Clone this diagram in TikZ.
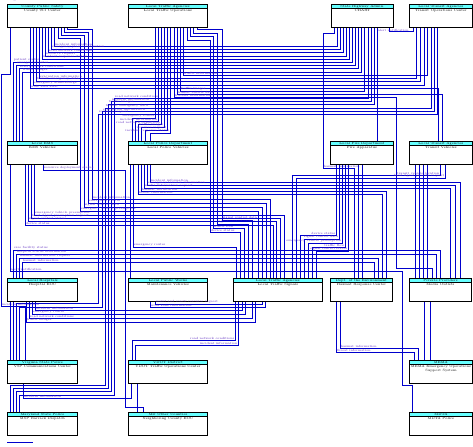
\documentclass[tikz,border=0pt]{standalone}
\usepackage{xcolor}
\usepackage{tikz}

\definecolor{flowblue}{RGB}{0,0,204}
\definecolor{hdrcyan}{RGB}{102,255,255}
\definecolor{lblpurple}{RGB}{90,40,190}

\newcommand{\elemtext}[3]{\parbox[t][0.69cm][t]{#1}{\centering\fontsize{2.8}{3.6}\selectfont\rule{0pt}{2.6pt}#2\\#3}}

\tikzset{
  elem/.style={draw, line width=0.8pt, fill=white, anchor=north west, inner sep=0pt,
    path picture={\fill[hdrcyan] (path picture bounding box.north west) rectangle ([yshift=-3.4pt]path picture bounding box.north east);
      \draw[line width=0.5pt] ([yshift=-3.4pt]path picture bounding box.north west) -- ([yshift=-3.4pt]path picture bounding box.north east);}},
  flow/.style={draw=flowblue, line width=0.75pt},
  lbl/.style={pos=0.5, anchor=south west, inner sep=0.3pt, text=lblpurple, font=\fontsize{2.6}{3}\selectfont},
  lbll/.style={lbl, anchor=south east}
}

\begin{document}
\begin{tikzpicture}[x=0.03cm,y=-0.03cm]
  \useasboundingbox (0,0) rectangle (473,447);
  % Elements
  \node[elem] (A) at (7,4)   {\elemtext{2.1cm}{County Public Safety}{County 911 Center}};
  \node[elem] (B) at (128,4) {\elemtext{2.37cm}{Local Traffic Agencies}{Local Traffic Operations}};
  \node[elem] (C) at (331,4) {\elemtext{1.86cm}{State Highway Admin.}{CHART}};
  \node[elem] (D) at (409,4) {\elemtext{1.89cm}{Local Transit Agencies}{Transit Operations Center}};
  \node[elem] (E) at (7,141)   {\elemtext{2.1cm}{Local EMS}{EMS Vehicles}};
  \node[elem] (F) at (128,141) {\elemtext{2.37cm}{Local Police Department}{Local Police Vehicles}};
  \node[elem] (G) at (330,141) {\elemtext{1.89cm}{Local Fire Department}{Fire Apparatus}};
  \node[elem] (H) at (409,141) {\elemtext{1.89cm}{Local Transit Agencies}{Transit Vehicles}};
  \node[elem] (I) at (7,278)   {\elemtext{2.1cm}{Local Hospitals}{Hospital EOC}};
  \node[elem] (J) at (128,278) {\elemtext{2.37cm}{Local Public Works}{Maintenance Vehicles}};
  \node[elem] (K) at (233,278) {\elemtext{2.67cm}{Local Traffic Agencies}{Local Traffic Signals}};
  \node[elem] (L) at (330,278) {\elemtext{1.86cm}{Dept. of the Environment}{Hazmat Response Center}};
  \node[elem] (M) at (409,278) {\elemtext{1.86cm}{Private Providers}{Media Outlets}};
  \node[elem] (N) at (7,360)   {\elemtext{2.1cm}{Virginia State Police}{VSP Communications Center}};
  \node[elem] (O) at (128,360) {\elemtext{2.37cm}{VDOT District}{VDOT Traffic Operations Center}};
  \node[elem] (P) at (409,360) {\elemtext{1.89cm}{MEMA}{MEMA Emergency Operations\\Support System}};
  \node[elem] (Q) at (7,412)   {\elemtext{2.1cm}{Maryland State Police}{MSP Barrack Dispatch}};
  \node[elem] (R) at (128,412) {\elemtext{2.37cm}{MD Other Counties}{Neighboring County EOC}};
  \node[elem] (S) at (409,412) {\elemtext{1.89cm}{MDTA}{MDTA Police}};

  % Top bundle
  \draw[flow] (A.south -| 67,0) |- (92,29) |- node[lbl] (ak1) {incident information} (270,199) -- (K.north -| 270,0);
  \draw[flow] (A.south -| 64,0) |- (88,32) |- node[lbl] (ak2) {emergency routes} (266,203) -- (K.north -| 266,0);
  \draw[flow] (A.south -| 61,0) |- (84,35) |- node[lbl] (ak3) {signal control data} (262,207) -- (K.north -| 262,0);
  \draw[flow] (A.south -| 58,0) |- (80,38) |- node[lbl] (ak4) {emergency vehicle preemption} (258,211) -- (K.north -| 258,0);
  \draw[flow] (B.south -| 197,0) |- (222,29) |- node[lbl] (bk1) {signal control data} (252,220) -- (K.north -| 252,0);
  \draw[flow] (B.south -| 193,0) |- (217,33) |- node[lbl] (bk2) {signal control status} (248,224) -- (K.north -| 248,0);
  \draw[flow] (B.south -| 190,0) |- (213,36) |- node[lbl] (bk3) {traffic flow} (244,228) -- (K.north -| 244,0);
  \draw[flow] (B.south -| 187,0) |- (210,40) |- node[lbl] (bk4) {device status} (240,232) -- (K.north -| 240,0);
  \draw[flow] (C.south -| 389,0) |- (413,31) -- (D.south -| 413,0);
  \draw[flow] (C.south -| 334,0) |- (323,33) |- node[lbl] (cl) {hazmat information} (354,168) -- (L.north -| 354,0);
  \draw[flow] (C.south -| 377,0) -- node[lbl, pos=0.02, anchor=west] (cg) {alert notification} (G.north -| 377,0);
  \draw[flow] (A.south -| 54,0) |- node[lbl] (ac1) {incident information} (337,46) -- (C.south -| 337,0);
  \draw[flow] (A.south -| 51,0) |- node[lbl] (ac2) {emergency plan coordination} (340,49) -- (C.south -| 340,0);
  \draw[flow] (A.south -| 48,0) |- node[lbl] (ac3) {road network conditions} (343,52) -- (C.south -| 343,0);
  \draw[flow] (A.south -| 45,0) |- node[lbl] (ac4) {resource request} (346,56) -- (C.south -| 346,0);
  \draw[flow] (A.south -| 42,0) |- node[lbl] (ac5) {incident response status} (349,59) -- (C.south -| 349,0);
  \draw[flow] (E.north -| 13,0) |- node[lbl] (ec1) {patient status} (352,62) -- (C.south -| 352,0);
  \draw[flow] (E.north -| 16,0) |- node[lbl] (ec2) {emergency routes} (355,65) -- (C.south -| 355,0);
  \draw[flow] (E.north -| 19,0) |- node[lbl] (ec3) {road network conditions} (358,68) -- (C.south -| 358,0);
  \draw[flow] (E.north -| 22,0) |- node[lbl] (ec4) {traffic images} (361,72) -- (C.south -| 361,0);
  \draw[flow] (B.south -| 183,0) |- node[lbl] (bd) {traffic information} (427,75) -- (D.south -| 427,0);
  \draw[flow] (A.south -| 39,0) |- node[lbl] (ad1) {evacuation information} (416,78) -- (D.south -| 416,0);
  \draw[flow] (A.south -| 36,0) |- node[lbl] (ad2) {transit emergency data} (420,81) -- (D.south -| 420,0);
  \draw[flow] (A.south -| 33,0) |- node[lbl] (ad3) {emergency acknowledge} (424,85) -- (D.south -| 424,0);
  \draw[flow] (A.south -| 30,0) |- node[lbl] (ah) {wide area alert} (438,88) -- (H.north -| 438,0);
  \draw[flow] (B.south -| 180,0) |- node[lbl] (bc) {traffic images} (364,91) -- (C.south -| 364,0);
  \draw[flow] (B.south -| 177,0) |- node[lbl] (bh) {transit vehicle data} (442,94) -- (H.north -| 442,0);
  \draw[flow] (B.south -| 174,0) |- node[lbl] (bm) {traveler information} (396,97) |- (432,268) -- (M.north -| 432,0);
  \draw[flow] (C.south -| 368,0) |- node[lbl, pos=1] (cq1) {road network conditions} (114,98) |- (19,395) -- (Q.north -| 19,0);
  \draw[flow] (C.south -| 371,0) |- node[lbl, pos=1] (cq2) {incident information} (111,101) |- (16,391) -- (Q.north -| 16,0);
  \draw[flow] (C.south -| 374,0) |- node[lbl, pos=1] (cq3) {traffic images} (108,104) |- (13,388) -- (Q.north -| 13,0);
  \draw[flow] (D.south -| 431,0) |- node[lbl, pos=1] (dq) {transit emergency data} (105,108) |- (10,385) -- (Q.north -| 10,0);
  \draw[flow] (D.south -| 434,0) |- node[lbl, pos=1] (dn1) {evacuation information} (102,111) |- (19,307) -- (N.north -| 19,0);
  \draw[flow] (D.south -| 437,0) |- node[lbl, pos=1] (dn2) {resource request} (98,114) |- (16,303) -- (N.north -| 16,0);
  \draw[flow] (B.south -| 155,0) |- node[lbll] (bf1) {emergency routes} (132,118) -- (F.north -| 132,0);
  \draw[flow] (B.south -| 158,0) |- node[lbll] (bf2) {incident information} (135,121) -- (F.north -| 135,0);
  \draw[flow] (B.south -| 161,0) |- node[lbll] (bf3) {road network conditions} (138,124) -- (F.north -| 138,0);
  \draw[flow] (B.south -| 164,0) |- node[lbll] (bf4) {traffic images} (141,127) -- (F.north -| 141,0);
  \draw[flow] (B.south -| 167,0) |- node[lbll] (bf5) {resource request} (145,130) -- (F.north -| 145,0);
  \draw[flow] (B.south -| 170,0) |- node[lbll] (bf6) {incident response status} (150,133) -- (F.north -| 150,0);
  \draw[flow] (A.south -| 10,0) |- (1,74) |- node[lbl] (an) {incident information} (25,306) -- (N.north -| 25,0);

  % Middle
  \draw[flow] (G.south -| 336,0) |- node[lbll] (gk1) {device status} (300,235) -- (K.north -| 300,0);
  \draw[flow] (G.south -| 339,0) |- node[lbll] (gk2) {signal control data} (304,239) -- (K.north -| 304,0);
  \draw[flow] (G.south -| 342,0) |- node[lbll] (gk3) {emergency vehicle preemption} (308,243) -- (K.north -| 308,0);
  \draw[flow] (G.south -| 345,0) |- node[lbll] (gk4) {traffic flow} (312,247) -- (K.north -| 312,0);
  \draw[flow] (G.south -| 348,0) |- node[lbll] (gk5) {signal control status} (316,251) -- (K.north -| 316,0);
  \draw[flow] (G.south -| 358,0) -- (L.north -| 358,0);
  \draw[flow] (G.south -| 362,0) -- (L.north -| 362,0);
  \draw[flow] (H.south -| 415,0) -- (M.north -| 415,0);
  \draw[flow] (H.south -| 419,0) -- (M.north -| 419,0);
  \draw[flow] (H.south -| 423,0) -- (M.north -| 423,0);
  \draw[flow] (H.south -| 427,0) -- (M.north -| 427,0);
  \draw[flow] (H.south -| 440,0) |- node[lbll] (hk1) {transit vehicle location} (292,175) -- (K.north -| 292,0);
  \draw[flow] (H.south -| 445,0) |- node[lbll] (hk2) {local signal priority request} (296,178) -- (K.north -| 296,0);
  \draw[flow] (F.south -| 150,0) |- node[lbl] (fm1) {incident information} (460,182) -- (M.north -| 460,0);
  \draw[flow] (F.south -| 147,0) |- node[lbl] (fm2) {emergency traveler information} (455,185) -- (M.north -| 455,0);
  \draw[flow] (F.south -| 144,0) |- node[lbl] (fm3) {media information request} (450,188) -- (M.north -| 450,0);
  \draw[flow] (F.south -| 141,0) |- node[lbl] (fl1) {hazmat notification} (386,191) -- (L.north -| 386,0);
  \draw[flow] (F.south -| 138,0) |- node[lbl] (fl2) {threat information} (382,194) -- (L.north -| 382,0);
  \draw[flow] (F.south -| 133,0) |- node[lbl] (fk) {emergency routes} (236,247) -- (K.north -| 236,0);
  \draw[flow] (F.south -| 130,0) -- (J.north -| 130,0);
  \draw[flow] (E.south -| 34,0) |- node[lbl] (ek1) {emergency vehicle preemption} (284,215) -- (K.north -| 284,0);
  \draw[flow] (E.south -| 31,0) |- node[lbl] (ek2) {local signal preemption request} (280,218) -- (K.north -| 280,0);
  \draw[flow] (E.south -| 28,0) |- node[lbl] (ek3) {signal control status} (276,221) -- (K.north -| 276,0);
  \draw[flow] (E.south -| 25,0) |- node[lbl] (ek4) {device status} (273,225) -- (K.north -| 273,0);
  \draw[flow] (E.south -| 43,0) |- node[lbl] (er) {resource deployment status} (125,170) |- (143,407) -- (R.north -| 143,0);
  \draw[flow] (E.south -| 10,0) |- node[lbl] (es) {alert notification} (402,271) |- (412,385) -- (S.north -| 412,0);
  \draw[flow] (I.north -| 13,0) |- node[lbl] (im1) {care facility status} (440,250) -- (M.north -| 440,0);
  \draw[flow] (I.north -| 16,0) |- node[lbl] (im2) {hospital status information} (436,254) -- (M.north -| 436,0);
  \draw[flow] (I.north -| 19,0) |- node[lbl] (il1) {hazmat information request} (378,258) -- (L.north -| 378,0);
  \draw[flow] (I.north -| 22,0) |- node[lbl] (il2) {hazmat information} (374,262) -- (L.north -| 374,0);

  % Bottom
  \draw[flow] (I.south -| 10,0) -- (N.north -| 10,0);
  \draw[flow] (I.south -| 13,0) -- (N.north -| 13,0);
  \draw[flow] (I.south -| 35,0) |- node[lbl] (ik1) {incident information} (242,310) -- (K.south -| 242,0);
  \draw[flow] (I.south -| 32,0) |- node[lbl] (ik2) {emergency routes} (245,314) -- (K.south -| 245,0);
  \draw[flow] (I.south -| 29,0) |- node[lbl] (ik3) {road network conditions} (252,318) -- (K.south -| 252,0);
  \draw[flow] (I.south -| 26,0) |- node[lbl] (ik4) {traffic images} (255,322) -- (K.south -| 255,0);
  \draw[flow] (J.south -| 155,0) |- node[lbl] (jk1) {maint and constr resource request} (262,304) -- (K.south -| 262,0);
  \draw[flow] (J.south -| 150,0) |- node[lbl] (jk2) {work zone information} (265,307) -- (K.south -| 265,0);
  \draw[flow] (K.south -| 235,0) |- node[lbll] (ko1) {road network conditions} (132,340) -- (O.north -| 132,0);
  \draw[flow] (K.south -| 238,0) |- node[lbll] (ko2) {incident information} (135,345) -- (O.north -| 135,0);
  \draw[flow] (N.south -| 23,0) |- node[lbl] (no) {incident information} (131,398) -- (O.south -| 131,0);
  \draw[flow] (O.south -| 137,0) -- (R.north -| 137,0);
  \draw[flow] (L.south -| 340,0) |- node[lbl] (lp1) {hazmat information} (418,348) -- (P.north -| 418,0);
  \draw[flow] (L.south -| 336,0) |- node[lbl] (lp2) {threat information} (414,352) -- (P.north -| 414,0);
  \draw[flow] (M.south -| 424,0) -- (P.north -| 424,0);
  \draw[flow] (M.south -| 430,0) -- (P.north -| 430,0);

  % Legend
  \coordinate (lg1) at (7,442);
  \coordinate (lg2) at (33,442);
  \draw[flow] (lg1) -- (lg2);
  \node[lbl, anchor=west] (lgt) at (35,442) {Existing};
\end{tikzpicture}
\end{document}
